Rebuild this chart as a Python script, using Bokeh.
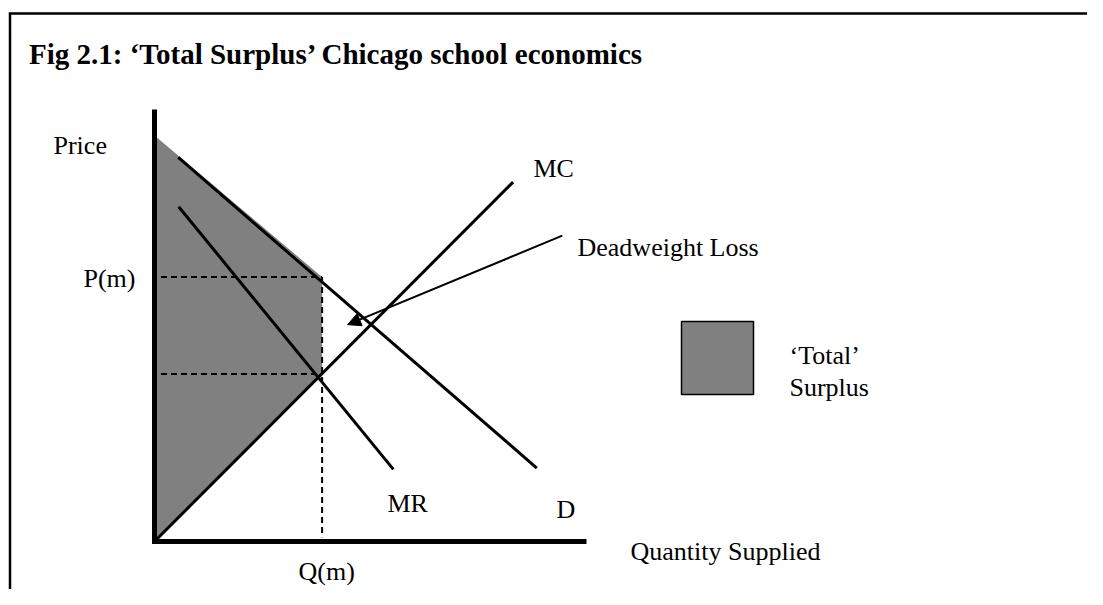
from bokeh.plotting import figure
from bokeh.models import Range1d, Arrow, NormalHead
from bokeh.core.properties import value
from bokeh.embed import file_html
from bokeh.resources import INLINE

# ---------------- data (economic units: quantity, price) ----------------
axis_q = [0.0, 0.0, 10.0]
axis_p = [10.0, 0.0, 0.0]

demand_q = [0.55, 8.85]
demand_p = [8.89, 1.70]

mr_q = [0.56, 5.53]
mr_p = [7.75, 1.67]

mc_q = [0.00, 8.30]
mc_p = [0.00, 8.32]

demand_intercept = 9.40   # price where demand meets the price axis
q_m = 3.88                # monopoly quantity
p_m = 6.12                # monopoly price
p_mc = 3.88               # MC = MR level at Q(m)

surplus_q = [0.0, q_m, q_m, 0.0]
surplus_p = [demand_intercept, p_m, p_mc, 0.0]

# Deadweight-loss pointer: from label towards the triangle
dwl_from = (9.44, 7.08)
dwl_to = (4.47, 5.02)

curve_labels = ["MC", "MR", "D"]

# ---------------- layout helpers (picture pixels -> data units) ----------------
W, H = 1087, 589
S = 43.2            # pixels per unit
OX, OY = 154, 541   # pixel of origin


def dx(px):
    return (px - OX) / S


def dy(py):
    return (OY - py) / S


FONT = value("Liberation Serif")

p = figure(width=W, height=H, output_backend="svg", toolbar_location=None,
           x_range=Range1d(dx(0), dx(W)), y_range=Range1d(dy(H), dy(0)),
           x_axis_location=None, y_axis_location=None, min_border=0)
p.grid.visible = False
p.outline_line_color = None
p.background_fill_color = "white"
p.border_fill_color = "white"

# frame of the figure box (top and left edges)
p.line([dx(9.5), dx(9.5), dx(1200)], [dy(700), dy(13), dy(13)],
       line_color="black", line_width=2.5, line_join="miter")

# shaded 'total surplus'
p.patch(surplus_q, surplus_p, fill_color="#808080", line_color=None)

# dashed guides
gap = 0.15
p.line([gap, q_m], [p_m, p_m], line_color="black", line_width=2, line_dash="6 4")
p.line([gap, q_m], [p_mc, p_mc], line_color="black", line_width=2, line_dash="6 4")
p.line([q_m, q_m], [p_m, 0.1], line_color="black", line_width=2, line_dash="6 4")

# curves
p.line(demand_q, demand_p, line_color="black", line_width=3)
p.line(mr_q, mr_p, line_color="black", line_width=3)
p.line(mc_q, mc_p, line_color="black", line_width=3)

# axes
p.line(axis_q, axis_p, line_color="black", line_width=5, line_join="miter")

# deadweight loss arrow
p.add_layout(Arrow(end=NormalHead(size=13, fill_color="black", line_color="black"),
                   x_start=dwl_from[0], y_start=dwl_from[1],
                   x_end=dwl_to[0], y_end=dwl_to[1],
                   line_color="black", line_width=2))

# legend box
p.quad(left=[dx(681)], right=[dx(753)], top=[dy(321)], bottom=[dy(394)],
       fill_color="#808080", line_color="black", line_width=1.5)


# texts
def txt(x, y, s, size="26px", style="normal"):
    p.text(x=[dx(x)], y=[dy(y)], text=[s], text_font=FONT, text_font_size=size,
           text_font_style=style, text_color="black", text_align="left",
           text_baseline="alphabetic")


txt(28.5, 53, "Fig 2.1: \u2018Total Surplus\u2019 Chicago school economics", size="29px", style="bold")
txt(53, 145, "Price")
txt(83, 278, "P(m)")
txt(533, 168, curve_labels[0])
txt(577, 247, "Deadweight Loss")
txt(387, 503, curve_labels[1])
txt(556, 509, curve_labels[2])
txt(630, 551, "Quantity Supplied")
txt(298, 571, "Q(m)")
txt(789, 355, "\u2018Total\u2019")
txt(789, 387, "Surplus")

open("out.html", "w").write(file_html(p, INLINE))
